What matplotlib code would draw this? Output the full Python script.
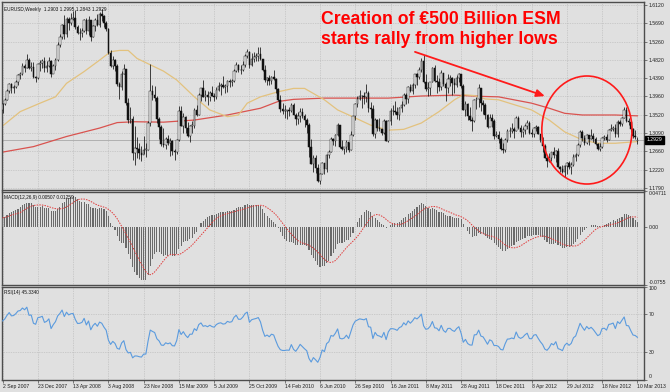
import numpy as np
import pandas as pd
import matplotlib
matplotlib.use("Agg")
import matplotlib.pyplot as plt
from matplotlib.patches import Ellipse

plt.rcParams['font.family'] = ['Liberation Sans', 'DejaVu Sans']

# ---------------- data (weekly EURUSD) ----------------
first_open = 1.365
closes = [
    # 2007
    1.378, 1.388, 1.408, 1.426, 1.417, 1.419, 1.430, 1.447, 1.450, 1.468, 1.464, 1.483, 1.463,
    1.465, 1.442, 1.439, 1.472,
    # 2008
    1.475, 1.480, 1.463, 1.468, 1.480, 1.450, 1.468, 1.483, 1.518, 1.536, 1.565, 1.543, 1.580,
    1.570, 1.580, 1.582, 1.561, 1.546, 1.547, 1.552, 1.576, 1.552, 1.576, 1.538, 1.563, 1.578,
    1.565, 1.592, 1.587, 1.570, 1.556, 1.500, 1.468, 1.483, 1.468, 1.426, 1.419, 1.448, 1.460,
    1.380, 1.340, 1.343, 1.263, 1.273, 1.272, 1.262, 1.257, 1.270, 1.270, 1.333, 1.410, 1.400,
    # 2009
    1.392, 1.343, 1.324, 1.283, 1.280, 1.295, 1.286, 1.291, 1.267, 1.265, 1.292, 1.362, 1.327,
    1.348, 1.321, 1.303, 1.326, 1.326, 1.365, 1.353, 1.400, 1.415, 1.395, 1.400, 1.394, 1.405,
    1.398, 1.395, 1.412, 1.420, 1.423, 1.418, 1.420, 1.433, 1.430, 1.433, 1.457, 1.470, 1.458,
    1.458, 1.470, 1.491, 1.501, 1.471, 1.485, 1.489, 1.492, 1.497, 1.485, 1.458, 1.434, 1.439,
    # 2010
    1.432, 1.441, 1.438, 1.414, 1.387, 1.367, 1.362, 1.362, 1.363, 1.362, 1.376, 1.353, 1.342,
    1.350, 1.360, 1.350, 1.339, 1.329, 1.275, 1.237, 1.250, 1.227, 1.196, 1.211, 1.238, 1.224,
    1.256, 1.264, 1.294, 1.290, 1.305, 1.328, 1.275, 1.271, 1.275, 1.289, 1.270, 1.305, 1.349,
    1.379, 1.389, 1.398, 1.396, 1.394, 1.403, 1.369, 1.367, 1.306, 1.341, 1.322, 1.318, 1.310, 1.337,
    # 2011
    1.291, 1.338, 1.361, 1.361, 1.358, 1.352, 1.369, 1.375, 1.400, 1.390, 1.418, 1.408,
    1.424, 1.448, 1.443, 1.458, 1.481, 1.431, 1.413, 1.416, 1.431, 1.464, 1.433, 1.431, 1.418,
    1.452, 1.425, 1.415, 1.438, 1.439, 1.429, 1.424, 1.439, 1.449, 1.420, 1.365, 1.379, 1.350, 1.339,
    1.338, 1.388, 1.389, 1.415, 1.380, 1.375, 1.352, 1.324, 1.346, 1.338, 1.303, 1.304, 1.296,
    # 2012
    1.272, 1.268, 1.293, 1.314, 1.315, 1.319, 1.315, 1.345, 1.320, 1.312, 1.317, 1.327, 1.334,
    1.309, 1.308, 1.322, 1.324, 1.308, 1.292, 1.278, 1.251, 1.243, 1.251, 1.264, 1.257, 1.267,
    1.229, 1.224, 1.216, 1.232, 1.239, 1.228, 1.234, 1.252, 1.258, 1.282, 1.312, 1.298, 1.286,
    1.304, 1.295, 1.302, 1.294, 1.283, 1.271, 1.275, 1.298, 1.299, 1.293, 1.316, 1.318, 1.322,
    # 2013
    1.306, 1.336, 1.330, 1.346, 1.364, 1.337, 1.336, 1.319, 1.302, 1.300, 1.2929,
]
highs = [
    1.381, 1.393, 1.413, 1.428, 1.428, 1.424, 1.436, 1.448, 1.453, 1.475, 1.474, 1.497, 1.486,
    1.477, 1.477, 1.445, 1.474,
    1.482, 1.484, 1.489, 1.481, 1.490, 1.482, 1.474, 1.487, 1.524, 1.544, 1.567, 1.590, 1.584,
    1.585, 1.593, 1.598, 1.602, 1.566, 1.557, 1.559, 1.580, 1.582, 1.586, 1.576, 1.565, 1.582,
    1.591, 1.596, 1.604, 1.590, 1.574, 1.558, 1.505, 1.491, 1.485, 1.472, 1.430, 1.457, 1.474,
    1.460, 1.393, 1.372, 1.350, 1.327, 1.300, 1.286, 1.279, 1.302, 1.286, 1.337, 1.472, 1.423,
    1.421, 1.397, 1.348, 1.328, 1.322, 1.300, 1.304, 1.297, 1.293, 1.271, 1.294, 1.373, 1.374,
    1.357, 1.349, 1.335, 1.328, 1.338, 1.369, 1.375, 1.404, 1.417, 1.434, 1.412, 1.408, 1.410,
    1.421, 1.405, 1.419, 1.430, 1.429, 1.444, 1.426, 1.436, 1.437, 1.437, 1.461, 1.478, 1.474,
    1.471, 1.479, 1.496, 1.508, 1.503, 1.498, 1.502, 1.500, 1.514, 1.514, 1.484, 1.470, 1.443,
    1.446, 1.445, 1.458, 1.440, 1.415, 1.399, 1.380, 1.375, 1.365, 1.370, 1.380, 1.381, 1.357,
    1.358, 1.369, 1.368, 1.354, 1.345, 1.334, 1.295, 1.257, 1.257, 1.236, 1.215, 1.241, 1.239,
    1.259, 1.270, 1.300, 1.298, 1.307, 1.333, 1.315, 1.292, 1.277, 1.292, 1.288, 1.313, 1.350,
    1.380, 1.398, 1.411, 1.400, 1.407, 1.425, 1.408, 1.382, 1.376, 1.344, 1.342, 1.345, 1.318, 1.342,
    1.339, 1.340, 1.368, 1.376, 1.386, 1.371, 1.372, 1.384, 1.403, 1.405, 1.421, 1.425,
    1.427, 1.449, 1.452, 1.465, 1.488, 1.494, 1.449, 1.430, 1.431, 1.466, 1.470, 1.446, 1.440,
    1.458, 1.451, 1.430, 1.449, 1.446, 1.443, 1.440, 1.447, 1.452, 1.450, 1.425, 1.384, 1.380, 1.370,
    1.347, 1.389, 1.395, 1.425, 1.404, 1.387, 1.380, 1.355, 1.355, 1.355, 1.342, 1.313, 1.313,
    1.300, 1.285, 1.297, 1.318, 1.323, 1.332, 1.323, 1.349, 1.349, 1.328, 1.324, 1.331, 1.339,
    1.338, 1.319, 1.323, 1.328, 1.327, 1.305, 1.299, 1.284, 1.255, 1.263, 1.265, 1.275, 1.269,
    1.274, 1.232, 1.233, 1.233, 1.240, 1.244, 1.240, 1.259, 1.263, 1.286, 1.317, 1.317, 1.304,
    1.307, 1.300, 1.318, 1.309, 1.301, 1.286, 1.285, 1.299, 1.305, 1.308, 1.318, 1.331, 1.326,
    1.330, 1.340, 1.341, 1.347, 1.371, 1.371, 1.346, 1.338, 1.320, 1.316, 1.2995,
]
lows = [
    1.357, 1.375, 1.387, 1.403, 1.404, 1.404, 1.415, 1.424, 1.437, 1.446, 1.453, 1.464, 1.461,
    1.456, 1.440, 1.430, 1.438,
    1.457, 1.464, 1.454, 1.455, 1.465, 1.441, 1.451, 1.459, 1.479, 1.514, 1.533, 1.533, 1.537,
    1.554, 1.566, 1.576, 1.556, 1.543, 1.529, 1.537, 1.548, 1.545, 1.542, 1.528, 1.536, 1.550,
    1.562, 1.560, 1.574, 1.561, 1.551, 1.497, 1.465, 1.462, 1.456, 1.420, 1.390, 1.412, 1.448,
    1.375, 1.334, 1.334, 1.246, 1.233, 1.249, 1.247, 1.243, 1.259, 1.252, 1.270, 1.327, 1.388,
    1.385, 1.334, 1.295, 1.278, 1.275, 1.272, 1.281, 1.255, 1.256, 1.246, 1.260, 1.290, 1.326,
    1.310, 1.310, 1.300, 1.288, 1.310, 1.322, 1.350, 1.352, 1.384, 1.394, 1.385, 1.376, 1.384,
    1.398, 1.384, 1.390, 1.408, 1.399, 1.415, 1.404, 1.406, 1.418, 1.420, 1.430, 1.453, 1.454,
    1.448, 1.456, 1.466, 1.488, 1.463, 1.467, 1.478, 1.480, 1.481, 1.483, 1.456, 1.430, 1.424,
    1.422, 1.425, 1.436, 1.403, 1.385, 1.360, 1.354, 1.344, 1.343, 1.350, 1.358, 1.352, 1.329,
    1.331, 1.336, 1.344, 1.323, 1.310, 1.252, 1.235, 1.216, 1.214, 1.194, 1.188, 1.211, 1.213,
    1.216, 1.251, 1.264, 1.281, 1.279, 1.302, 1.274, 1.268, 1.259, 1.265, 1.264, 1.270, 1.303,
    1.340, 1.370, 1.387, 1.369, 1.377, 1.383, 1.360, 1.346, 1.303, 1.297, 1.315, 1.313, 1.304, 1.307,
    1.290, 1.287, 1.329, 1.351, 1.354, 1.343, 1.341, 1.359, 1.374, 1.377, 1.380, 1.406,
    1.401, 1.417, 1.424, 1.438, 1.455, 1.428, 1.410, 1.397, 1.400, 1.430, 1.431, 1.404, 1.410,
    1.411, 1.421, 1.384, 1.404, 1.421, 1.400, 1.405, 1.419, 1.431, 1.417, 1.363, 1.349, 1.339, 1.337,
    1.315, 1.335, 1.367, 1.372, 1.361, 1.355, 1.342, 1.321, 1.326, 1.323, 1.295, 1.300, 1.286,
    1.270, 1.262, 1.265, 1.287, 1.300, 1.310, 1.297, 1.315, 1.319, 1.299, 1.300, 1.308, 1.318,
    1.307, 1.300, 1.300, 1.313, 1.306, 1.288, 1.264, 1.250, 1.229, 1.240, 1.243, 1.250, 1.240,
    1.228, 1.216, 1.215, 1.204, 1.213, 1.224, 1.213, 1.232, 1.244, 1.254, 1.276, 1.290, 1.280,
    1.283, 1.280, 1.294, 1.288, 1.281, 1.268, 1.266, 1.273, 1.292, 1.288, 1.292, 1.315, 1.314,
    1.299, 1.299, 1.325, 1.325, 1.344, 1.335, 1.328, 1.312, 1.297, 1.296, 1.2843,
]
last_open = 1.2903

# moving averages as drawn on the chart (week index, price)
ma_fast_weeks = [0, 8, 17, 24, 29, 37, 44, 49, 53, 57, 61, 67, 73, 79, 87, 94, 102, 107, 111,
                 117, 125, 132, 137, 141, 146, 152, 160, 167, 175, 182, 190, 198, 205, 209, 214,
                 219, 225, 233, 240, 248, 255, 263, 270, 278, 288]
ma_fast_vals = [1.326, 1.360, 1.380, 1.395, 1.427, 1.455, 1.482, 1.502, 1.505, 1.505, 1.486,
                1.471, 1.456, 1.435, 1.395, 1.364, 1.348, 1.352, 1.380, 1.395, 1.407, 1.415,
                1.415, 1.403, 1.388, 1.364, 1.345, 1.328, 1.316, 1.318, 1.333, 1.360, 1.388,
                1.400, 1.398, 1.390, 1.388, 1.375, 1.364, 1.340, 1.312, 1.293, 1.285, 1.285, 1.289]
ma_slow_weeks = [0, 14, 29, 44, 52, 60, 73, 87, 102, 117, 125, 132, 146, 160, 175, 190, 205,
                 218, 225, 240, 248, 255, 263, 278, 288]
ma_slow_vals = [1.264, 1.277, 1.301, 1.321, 1.334, 1.336, 1.335, 1.340, 1.352, 1.368, 1.384,
                1.389, 1.392, 1.392, 1.392, 1.397, 1.399, 1.396, 1.395, 1.380, 1.368, 1.356,
                1.352, 1.352, 1.350]

price_ticks = [1.6120, 1.5690, 1.5260, 1.4820, 1.4390, 1.3960, 1.3520, 1.3090, 1.2660, 1.2220, 1.1790]
date_ticks = [0, 16, 32, 48, 64, 80, 96, 112, 128, 144, 160, 176, 192, 208, 224, 240, 256, 272, 288]
date_labels = ["2 Sep 2007", "23 Dec 2007", "13 Apr 2008", "3 Aug 2008", "23 Nov 2008",
               "15 Mar 2009", "5 Jul 2009", "25 Oct 2009", "14 Feb 2010", "6 Jun 2010",
               "26 Sep 2010", "16 Jan 2011", "8 May 2011", "28 Aug 2011", "18 Dec 2011",
               "8 Apr 2012", "29 Jul 2012", "18 Nov 2012", "10 Mar 2013"]
macd_ticks = [0.04711, 0.0, -0.0755]
macd_tick_labels = ["0.04711", "0.00", "-0.0755"]
rsi_ticks = [100, 70, 30, 0]

header_price = "EURUSD,Weekly  1.2903 1.2995 1.2843 1.2929"
header_macd = "MACD(12,26,9) 0.00507 0.01259"
header_rsi = "RSI(14) 45.3340"
title_lines = ["Creation of \u20ac500 Billion ESM", "starts rally from higher lows"]

# indicator warm-up seeds (values before the first visible bar)
ema_fast_seed, ema_slow_seed = 1.362, 1.350
rsi_gain_seed, rsi_loss_seed = 0.0075, 0.0050

# ---------------- derived series ----------------
c = np.array(closes)
h = np.array(highs)
l = np.array(lows)
o = np.concatenate([[first_open], c[:-1]])
o[-1] = last_open
x = np.arange(len(c))


def ema(vals, seed, n):
    a = 2.0 / (n + 1)
    e = seed
    out = []
    for v in vals:
        e = e + a * (v - e)
        out.append(e)
    return np.array(out)


macd = ema(c, ema_fast_seed, 12) - ema(c, ema_slow_seed, 26)
signal = pd.Series(macd).rolling(9, min_periods=1).mean().values

diffs = np.diff(np.concatenate([[first_open], c]))
g, lo = rsi_gain_seed, rsi_loss_seed
rsi = []
for d in diffs:
    g = (g * 13 + max(d, 0)) / 14
    lo = (lo * 13 + max(-d, 0)) / 14
    rsi.append(100 * g / (g + lo))
rsi = np.array(rsi)

# ---------------- figure ----------------
W, H = 670, 392
BG = '#e0e0e0'
fig = plt.figure(figsize=(W / 100, H / 100), dpi=100, facecolor=BG)


def px_axes(l_, t_, r_, b_):
    return fig.add_axes([l_ / W, 1 - b_ / H, (r_ - l_) / W, (b_ - t_) / H])


ax_p = px_axes(1.7, 2, 644, 189.5)
ax_m = px_axes(1.7, 191.5, 644, 284.5)
ax_r = px_axes(1.7, 286.5, 644, 379.5)

SP = '#4d4d4d'
GRID = '#b4b4b4'
FS = 3.7
for ax in (ax_p, ax_m, ax_r):
    ax.set_facecolor(BG)
    ax.set_xlim(-0.4, 291)
    for s in ax.spines.values():
        s.set_color(SP)
        s.set_linewidth(1.0)
    ax.yaxis.tick_right()
    ax.tick_params(axis='y', which='both', length=2, width=0.5, color=SP, pad=1.2,
                   labelsize=FS, labelcolor='#202020')
    ax.set_xticks(date_ticks)
    for xt in date_ticks:
        ax.axvline(xt, color=GRID, lw=0.5, ls=(0, (1, 1.5)), zorder=0)

# ---- price panel ----
ax_p.set_ylim(1.1754, 1.6198)
ax_p.set_yticks(price_ticks)
ax_p.set_yticklabels([f"{v:.4f}" for v in price_ticks])
ax_p.tick_params(axis='x', length=0, labelbottom=False)
for yt in price_ticks:
    ax_p.axhline(yt, color=GRID, lw=0.5, ls=(0, (1, 1.5)), zorder=0)

ax_p.axhline(c[-1], color='#a8a8a8', lw=0.6, zorder=1)
ax_p.plot(ma_slow_weeks, ma_slow_vals, color='#d9534f', lw=0.9, zorder=2)
ax_p.plot(ma_fast_weeks, ma_fast_vals, color='#e3c27e', lw=0.9, zorder=2)

ax_p.vlines(x, l, h, colors='#111111', lw=0.55, zorder=3)
up = c >= o
body_bottom = np.minimum(o, c)
body_height = np.maximum(np.abs(c - o), 0.0012)
ax_p.bar(x[up], body_height[up], bottom=body_bottom[up], width=0.75,
         color='white', edgecolor='#111111', linewidth=0.35, zorder=4)
ax_p.bar(x[~up], body_height[~up], bottom=body_bottom[~up], width=0.75,
         color='#111111', edgecolor='#111111', linewidth=0.35, zorder=4)

ax_p.text(1.004, c[-1], f"{c[-1]:.4f}", transform=ax_p.get_yaxis_transform(),
          ha='left', va='center', fontsize=FS, color='white', zorder=6, clip_on=False,
          bbox=dict(boxstyle='square,pad=0.25', fc='black', ec='black'))
ax_p.text(0.004, 0.975, header_price, transform=ax_p.transAxes, ha='left', va='top',
          fontsize=3.4, color='#111111')

# annotation
fig.text(321 / W, 1 - 23.5 / H, title_lines[0], ha='left', va='baseline',
         fontsize=12.7, fontweight='bold', color='#ff0000')
fig.text(321 / W, 1 - 43.5 / H, title_lines[1], ha='left', va='baseline',
         fontsize=12.7, fontweight='bold', color='#ff0000')
ax_p.annotate('', xy=(247.2, 1.3947), xytext=(185.9, 1.5037),
              arrowprops=dict(arrowstyle='-|>,head_length=0.5,head_width=0.22',
                              color='#ff1a1a', lw=1.3), zorder=7)
ax_p.add_patch(Ellipse((265.1, 1.3164), width=40.9, height=0.256, fill=False,
                       edgecolor='#ff1a1a', lw=1.2, zorder=7))

# ---- MACD panel ----
ax_m.set_ylim(-0.0755, 0.04711)
ax_m.bar(x, macd, width=0.5, color='#6a6a6a', zorder=3)
ax_m.plot(x, signal, color='#e03a3a', lw=0.7, ls=(0, (1.5, 1.2)), zorder=4)
ax_m.set_yticks(macd_ticks)
ax_m.set_yticklabels(macd_tick_labels)
labs = ax_m.get_yticklabels()
labs[0].set_va('top')
labs[2].set_va('bottom')
ax_m.tick_params(axis='x', length=0, labelbottom=False)
ax_m.text(0.004, 0.965, header_macd, transform=ax_m.transAxes, ha='left', va='top',
          fontsize=3.4, color='#111111', zorder=6)

# ---- RSI panel ----
ax_r.set_ylim(0, 100)
for lvl in (70, 30):
    ax_r.axhline(lvl, color=GRID, lw=0.5, ls=(0, (1, 1.5)), zorder=0)
ax_r.plot(x, rsi, color='#5b9bde', lw=0.8, zorder=3)
ax_r.set_yticks(rsi_ticks)
ax_r.set_yticklabels([str(v) for v in rsi_ticks])
labs = ax_r.get_yticklabels()
labs[0].set_va('top')
labs[3].set_va('bottom')
ax_r.set_xticklabels(date_labels, ha='left')
ax_r.tick_params(axis='x', length=2, width=0.5, color=SP, pad=1.0, labelsize=FS,
                 labelcolor='#202020')
ax_r.text(0.004, 0.965, header_rsi, transform=ax_r.transAxes, ha='left', va='top',
          fontsize=3.4, color='#111111')

fig.savefig('out.png', dpi=100, facecolor=BG)
